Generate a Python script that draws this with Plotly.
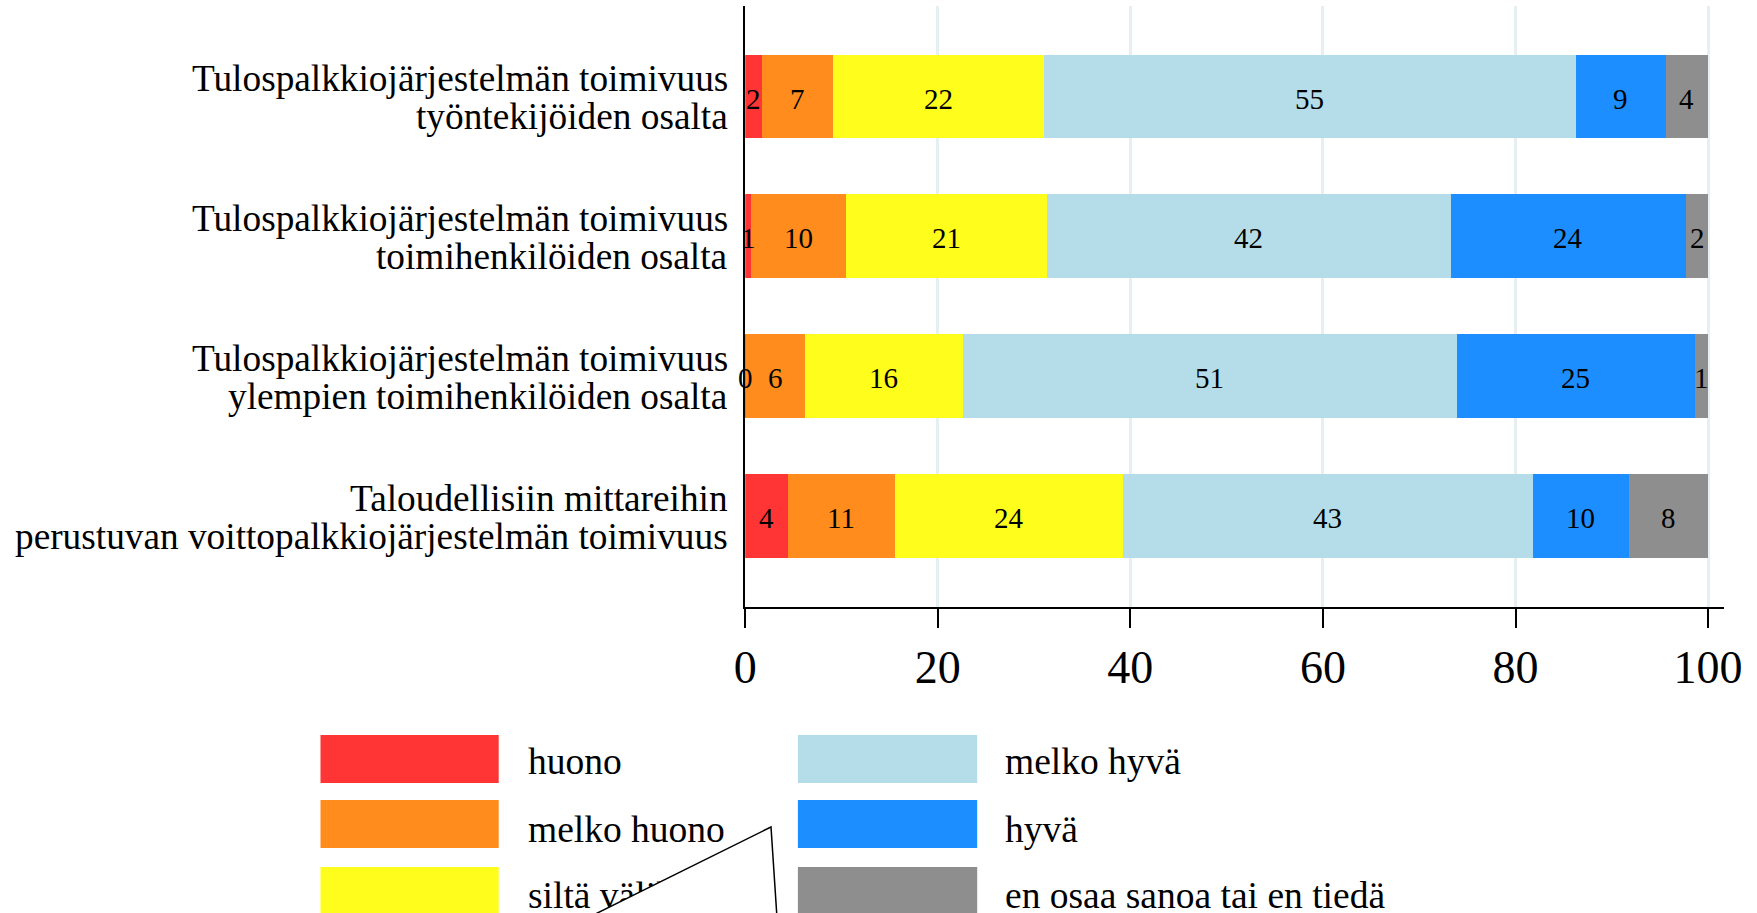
import numpy as np
import plotly.graph_objects as go

# ---------------- data ----------------
categories = [
    "Tulospalkkiojärjestelmän toimivuus|työntekijöiden osalta",
    "Tulospalkkiojärjestelmän toimivuus|toimihenkilöiden osalta",
    "Tulospalkkiojärjestelmän toimivuus|ylempien toimihenkilöiden osalta",
    "Taloudellisiin mittareihin|perustuvan voittopalkkiojärjestelmän toimivuus",
]
series_names = ["huono", "melko huono", "siltä välillä", "melko hyvä", "hyvä",
                "en osaa sanoa tai en tiedä"]
huono = [1.7, 0.6, 0.1, 4.4]
melko_huono = [7.4, 9.9, 6.1, 11.2]
silta_valilla = [21.9, 20.8, 16.4, 23.6]
melko_hyva = [55.3, 42.0, 51.3, 42.6]
hyva = [9.3, 24.4, 24.7, 10.0]
en_osaa = [4.4, 2.3, 1.4, 8.2]
x_ticks = [0, 20, 40, 60, 80, 100]

series_values = [huono, melko_huono, silta_valilla, melko_hyva, hyva, en_osaa]
colors = ["#FF3535", "#FF8C1C", "#FFFD1C", "#B5DDE9", "#1C8EFF", "#8E8E8E"]

FONT = "Liberation Serif, Times New Roman, serif"
W, H = 1757, 913

fig = go.Figure()

# stacked bars
for name, vals, col in zip(series_names, series_values, colors):
    fig.add_trace(go.Bar(
        y=categories, x=vals, name=name, orientation="h",
        marker=dict(color=col, line=dict(width=0)), width=0.6,
        showlegend=False, xaxis="x", yaxis="y",
    ))

annotations = []

# value labels at segment centres
vals_arr = np.array(series_values)
cum = np.cumsum(vals_arr, axis=0)
mids = cum - vals_arr / 2
for i in range(vals_arr.shape[0]):
    for j in range(vals_arr.shape[1]):
        annotations.append(dict(
            x=mids[i, j], xref="x", y=categories[j], yref="y",
            text=f"{vals_arr[i, j]:.0f}", showarrow=False,
            xanchor="center", yanchor="middle", yshift=-2,
            font=dict(family=FONT, size=29, color="black"),
        ))

# category labels (two lines each)
for c in categories:
    l1, l2 = c.split("|")
    for txt, sh in ((l1, 19), (l2, -19)):
        annotations.append(dict(
            x=0, xref="x", y=c, yref="y", text=txt, showarrow=False,
            xanchor="right", yanchor="middle", xshift=-15, yshift=sh - 1,
            font=dict(family=FONT, size=37.3, color="black"),
        ))

# custom legend (pixel overlay axes)
shapes = []
leg_cols_x = [(320.5, 498.7, 528), (797.9, 977.2, 1005)]
leg_rows_y = [(735, 783, 765), (800, 848, 833), (867, 915, 899)]
tx, ty, tt = [], [], []
for k, (name, col) in enumerate(zip(series_names, colors)):
    cx0, cx1, tpos = leg_cols_x[k // 3]
    ry0, ry1, tyc = leg_rows_y[k % 3]
    shapes.append(dict(type="rect", xref="paper", yref="paper",
                       x0=cx0 / W, x1=cx1 / W, y0=1 - ry0 / H, y1=1 - ry1 / H,
                       fillcolor=col, line=dict(width=0), layer="below"))
    tx.append(tpos)
    ty.append(tyc)
    tt.append(name)
fig.add_trace(go.Scatter(
    x=tx, y=ty, text=tt, mode="text", textposition="middle right",
    textfont=dict(family=FONT, size=37.5, color="black"),
    showlegend=False, cliponaxis=False, xaxis="x2", yaxis="y2", hoverinfo="skip",
))

# stray white triangle with black outline
pts = [(557, 933), (771, 827), (778, 933)]
path = "M {} {} L {} {} L {} {} Z".format(
    *[v for p in pts for v in (p[0] / W, 1 - p[1] / H)])
shapes.append(dict(type="path", xref="paper", yref="paper", path=path,
                   fillcolor="white", line=dict(color="black", width=1.5),
                   layer="above"))

fig.update_layout(
    width=W, height=H,
    margin=dict(l=0, r=0, t=0, b=0),
    paper_bgcolor="white", plot_bgcolor="rgba(0,0,0,0)",
    barmode="stack",
    font=dict(family=FONT, color="black"),
    xaxis=dict(domain=[745.2 / W, 1723.5 / W], range=[0, 101.6],
               tickvals=x_ticks, ticks="outside", ticklen=19, tickwidth=1.5,
               tickcolor="black", showline=True, linecolor="black", linewidth=2,
               showgrid=True, gridcolor="#E6EFF2", gridwidth=3, zeroline=False,
               tickfont=dict(family=FONT, size=46, color="black"),
               anchor="y", automargin=False),
    yaxis=dict(domain=[(H - 607) / H, (H - 5.6) / H], range=[3.65, -0.65],
               type="category", categoryorder="array", categoryarray=categories,
               showticklabels=False, ticks="", showline=True, linecolor="black",
               linewidth=2, showgrid=False, zeroline=False, anchor="x",
               automargin=False),
    xaxis2=dict(domain=[0, 1], range=[0, W], visible=False, anchor="y2"),
    yaxis2=dict(domain=[0, 1], range=[H, 0], visible=False, anchor="x2"),
    annotations=annotations,
    shapes=shapes,
    showlegend=False,
)

fig.write_html("out.html", config={"displayModeBar": False},
               post_script="document.body.style.margin='0';")
